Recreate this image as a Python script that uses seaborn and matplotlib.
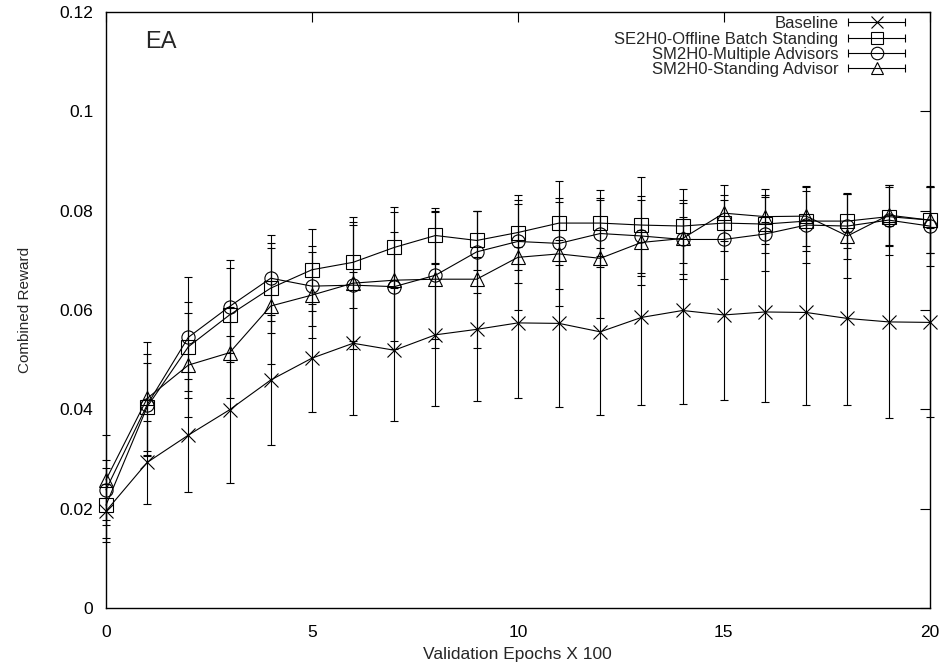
import numpy as np
import pandas as pd
import matplotlib.pyplot as plt
import seaborn as sns
from matplotlib.lines import Line2D
from matplotlib.legend_handler import HandlerBase

# Data
epochs = list(range(21))
series_names = ['Baseline', 'SE2H0-Offline Batch Standing',
                'SM2H0-Multiple Advisors', 'SM2H0-Standing Advisor']

baseline_mean = [0.0195, 0.0293, 0.0348, 0.0399, 0.0459, 0.0503, 0.0533, 0.0519, 0.0550, 0.0561, 0.0574,
                 0.0573, 0.0556, 0.0585, 0.0599, 0.0590, 0.0596, 0.0595, 0.0583, 0.0576, 0.0575]
baseline_err = [0.0055, 0.0084, 0.0114, 0.0148, 0.0131, 0.0109, 0.0144, 0.0142, 0.0143, 0.0145, 0.0152,
                0.0168, 0.0168, 0.0177, 0.0188, 0.0172, 0.0181, 0.0187, 0.0174, 0.0193, 0.0190]

offline_mean = [0.0207, 0.0405, 0.0526, 0.0590, 0.0644, 0.0681, 0.0696, 0.0726, 0.0750, 0.0740, 0.0756,
                0.0775, 0.0775, 0.0771, 0.0769, 0.0775, 0.0773, 0.0779, 0.0779, 0.0788, 0.0781]
offline_err = [0.0075, 0.0088, 0.0090, 0.0094, 0.0090, 0.0083, 0.0091, 0.0082, 0.0055, 0.0060, 0.0076,
               0.0085, 0.0067, 0.0096, 0.0074, 0.0057, 0.0058, 0.0060, 0.0055, 0.0060, 0.0067]

multiple_mean = [0.0238, 0.0409, 0.0545, 0.0607, 0.0664, 0.0648, 0.0650, 0.0647, 0.0670, 0.0717, 0.0738,
                 0.0734, 0.0754, 0.0749, 0.0742, 0.0742, 0.0753, 0.0771, 0.0769, 0.0781, 0.0769]
multiple_err = [0.0060, 0.0102, 0.0122, 0.0094, 0.0087, 0.0080, 0.0128, 0.0110, 0.0128, 0.0083, 0.0083,
                0.0091, 0.0067, 0.0080, 0.0080, 0.0080, 0.0075, 0.0077, 0.0067, 0.0071, 0.0080]

standing_mean = [0.0258, 0.0422, 0.0489, 0.0514, 0.0608, 0.0630, 0.0654, 0.0660, 0.0662, 0.0662, 0.0706,
                 0.0713, 0.0704, 0.0736, 0.0744, 0.0795, 0.0788, 0.0789, 0.0749, 0.0791, 0.0781]
standing_err = [0.0090, 0.0114, 0.0105, 0.0092, 0.0116, 0.0087, 0.0117, 0.0138, 0.0138, 0.0138, 0.0107,
                0.0105, 0.0121, 0.0085, 0.0071, 0.0057, 0.0055, 0.0060, 0.0085, 0.0061, 0.0067]

markers = ['x', 's', 'o', '^']
xticks = [0, 5, 10, 15, 20]
yticks = [0, 0.02, 0.04, 0.06, 0.08, 0.1, 0.12]
ytick_labels = ['0', '0.02', '0.04', '0.06', '0.08', '0.1', '0.12']

means = [baseline_mean, offline_mean, multiple_mean, standing_mean]
errs = [baseline_err, offline_err, multiple_err, standing_err]
df = pd.concat([pd.DataFrame({'epoch': epochs, 'reward': m, 'err': e, 'series': n})
                for n, m, e in zip(series_names, means, errs)], ignore_index=True)


class GnuplotKey(HandlerBase):
    # horizontal sample with end caps and the point symbol in the middle
    def create_artists(self, legend, orig_handle, xdescent, ydescent, width, height, fontsize, trans):
        y = height / 2 - ydescent
        x0, x1 = -xdescent, width - xdescent
        line = Line2D([x0, x1], [y, y], color='black', lw=0.8, transform=trans)
        caps = Line2D([x0, x1], [y, y], ls='none', marker='|', ms=6, mew=0.8,
                      color='black', transform=trans)
        mark = Line2D([(x0 + x1) / 2], [y], ls='none', marker=orig_handle.get_marker(),
                      ms=orig_handle.get_markersize(), mfc='none', mec='black', mew=0.8,
                      transform=trans)
        return [line, caps, mark]


sns.set_style('white')
plt.rcParams['font.family'] = ['Liberation Sans', 'DejaVu Sans']

fig, ax = plt.subplots(figsize=(9.42, 6.67), dpi=100)
fig.subplots_adjust(left=0.1125, right=0.987, bottom=0.0885, top=0.982)

handles = []
for name, m in zip(series_names, markers):
    d = df[df['series'] == name]
    eb = ax.errorbar(d['epoch'], d['reward'], yerr=d['err'], fmt='none', ecolor='black',
                     elinewidth=0.8, capsize=3, capthick=0.8)
    for art in eb.lines[1] + eb.lines[2]:
        art.set_clip_on(False)
    sns.lineplot(data=d, x='epoch', y='reward', ax=ax, color='black', lw=0.8, marker=m,
                 ms=9.5, mfc='none', mec='black', mew=0.8, errorbar=None, legend=False,
                 clip_on=False)
    handles.append(Line2D([], [], marker=m, ms=9, color='black'))

ax.set_xlim(0, 20)
ax.set_ylim(0, 0.12)
ax.set_xticks(xticks)
ax.set_yticks(yticks)
ax.set_yticklabels(ytick_labels)
ax.tick_params(direction='in', length=7, width=0.8, top=True, right=True,
               labelsize=12.5, colors='black')
ax.tick_params(axis='x', pad=12)
ax.tick_params(axis='y', pad=9)
for s in ax.spines.values():
    s.set_color('black')
    s.set_linewidth(1.0)

ax.set_xlabel('Validation Epochs X 100', fontsize=12.5, labelpad=5)
ax.set_ylabel('Combined Reward', fontsize=11, labelpad=20)

ax.text(0.047, 0.95, 'EA', transform=ax.transAxes, fontsize=17, va='center', ha='left')

ax.legend(handles, series_names, loc='upper right', bbox_to_anchor=(0.97, 0.993),
          frameon=False, markerfirst=False, handler_map={Line2D: GnuplotKey()},
          fontsize=12, handlelength=3.4, handletextpad=0.6, labelspacing=0.02,
          borderaxespad=0, borderpad=0)

fig.savefig('out.png', dpi=100)
